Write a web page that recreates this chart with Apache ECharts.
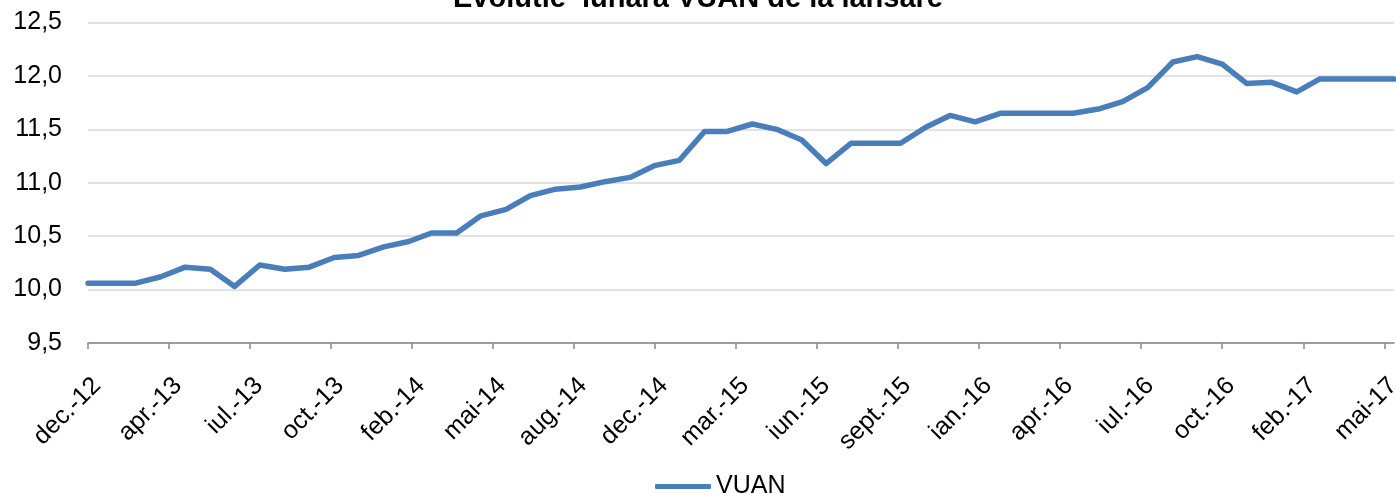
<!DOCTYPE html>
<html>
<head>
<meta charset="utf-8">
<script src="https://cdn.jsdelivr.net/npm/echarts@6/dist/echarts.min.js"></script>
<style>
html, body { margin: 0; padding: 0; background: #fff; }
#container { width: 1396px; height: 494px; }
</style>
</head>
<body>
<div id="container"></div>
<script>
// luni (sfarsit de luna) si valorile VUAN
var months = ['2012-12',
    '2013-01', '2013-02', '2013-03', '2013-04', '2013-05', '2013-06',
    '2013-07', '2013-08', '2013-09', '2013-10', '2013-11', '2013-12',
    '2014-01', '2014-02', '2014-03', '2014-04', '2014-05', '2014-06',
    '2014-07', '2014-08', '2014-09', '2014-10', '2014-11', '2014-12',
    '2015-01', '2015-02', '2015-03', '2015-04', '2015-05', '2015-06',
    '2015-07', '2015-08', '2015-09', '2015-10', '2015-11', '2015-12',
    '2016-01', '2016-02', '2016-03', '2016-04', '2016-05', '2016-06',
    '2016-07', '2016-08', '2016-09', '2016-10', '2016-11', '2016-12',
    '2017-01', '2017-02', '2017-03', '2017-04', '2017-05'];
var vuan = [10.06,
    10.06, 10.06, 10.12, 10.21, 10.19, 10.03,
    10.23, 10.19, 10.21, 10.30, 10.32, 10.40,
    10.45, 10.53, 10.53, 10.69, 10.75, 10.88,
    10.94, 10.96, 11.01, 11.05, 11.16, 11.21,
    11.48, 11.48, 11.55, 11.50, 11.40, 11.18,
    11.37, 11.37, 11.37, 11.52, 11.63, 11.57,
    11.65, 11.65, 11.65, 11.65, 11.69, 11.76,
    11.89, 12.13, 12.18, 12.11, 11.93, 11.94,
    11.85, 11.97, 11.97, 11.97, 11.97];
var monthNames = ['ian.', 'feb.', 'mar.', 'apr.', 'mai', 'iun.', 'iul.', 'aug.', 'sept.', 'oct.', 'nov.', 'dec.'];

var DAY = 86400000;
var start = Date.UTC(2012, 11, 31);

// axa x in zile de la prima data (scala de date, pas 100 zile)
function dayOf(ym) {
    var p = ym.split('-');
    return Math.round((Date.UTC(+p[0], +p[1], 0) - start) / DAY);
}
var seriesData = months.map(function (m, i) {
    return [dayOf(m), vuan[i]];
});
var lastDay = dayOf(months[months.length - 1]);

var dom = document.getElementById("container");
var myChart = echarts.init(dom);
var option = {
    animation: false,
    title: {
        text: 'Evolutie  lunara VUAN de la lansare',
        left: 'center',
        top: -21,
        textStyle: {
            fontFamily: 'Liberation Sans',
            fontSize: 29,
            fontWeight: 'bold',
            color: '#000'
        }
    },
    legend: {
        data: [{ name: 'VUAN', icon: 'roundRect' }],
        bottom: -10,
        left: 650,
        itemWidth: 56,
        itemHeight: 5,
        itemGap: 6,
        textStyle: {
            fontFamily: 'Liberation Sans',
            fontSize: 25,
            color: '#000'
        }
    },
    grid: {
        left: 88,
        right: 2,
        top: 22.5,
        bottom: 151,
        containLabel: false,
        outerBoundsMode: 'none'
    },
    xAxis: {
        type: 'value',
        min: 0,
        max: lastDay,
        interval: 100,
        axisLine: { lineStyle: { color: '#868686', width: 1.5 } },
        axisTick: { show: true, length: 6, lineStyle: { color: '#868686', width: 1.5 } },
        splitLine: { show: false },
        axisLabel: {
            rotate: 45,
            margin: 30,
            align: 'right',
            verticalAlign: 'top',
            showMaxLabel: false,
            fontFamily: 'Liberation Sans',
            fontSize: 25,
            color: '#000',
            formatter: function (v) {
                var d = new Date(start + v * DAY);
                return monthNames[d.getUTCMonth()] + '-' + String(d.getUTCFullYear()).slice(2);
            }
        }
    },
    yAxis: {
        type: 'value',
        min: 9.5,
        max: 12.5,
        interval: 0.5,
        axisLine: { show: false },
        axisTick: { show: false },
        splitLine: { lineStyle: { color: '#d9d9d9', width: 1.5 } },
        axisLabel: {
            margin: 26,
            fontFamily: 'Liberation Sans',
            fontSize: 25,
            color: '#000',
            formatter: function (v) {
                return v.toFixed(1).replace('.', ',');
            }
        }
    },
    series: [
        {
            name: 'VUAN',
            type: 'line',
            symbol: 'none',
            data: seriesData,
            lineStyle: { color: '#4a7ebb', width: 5.5, cap: 'round', join: 'round' },
            itemStyle: { color: '#4a7ebb' }
        }
    ]
};
myChart.setOption(option);
</script>
</body>
</html>
